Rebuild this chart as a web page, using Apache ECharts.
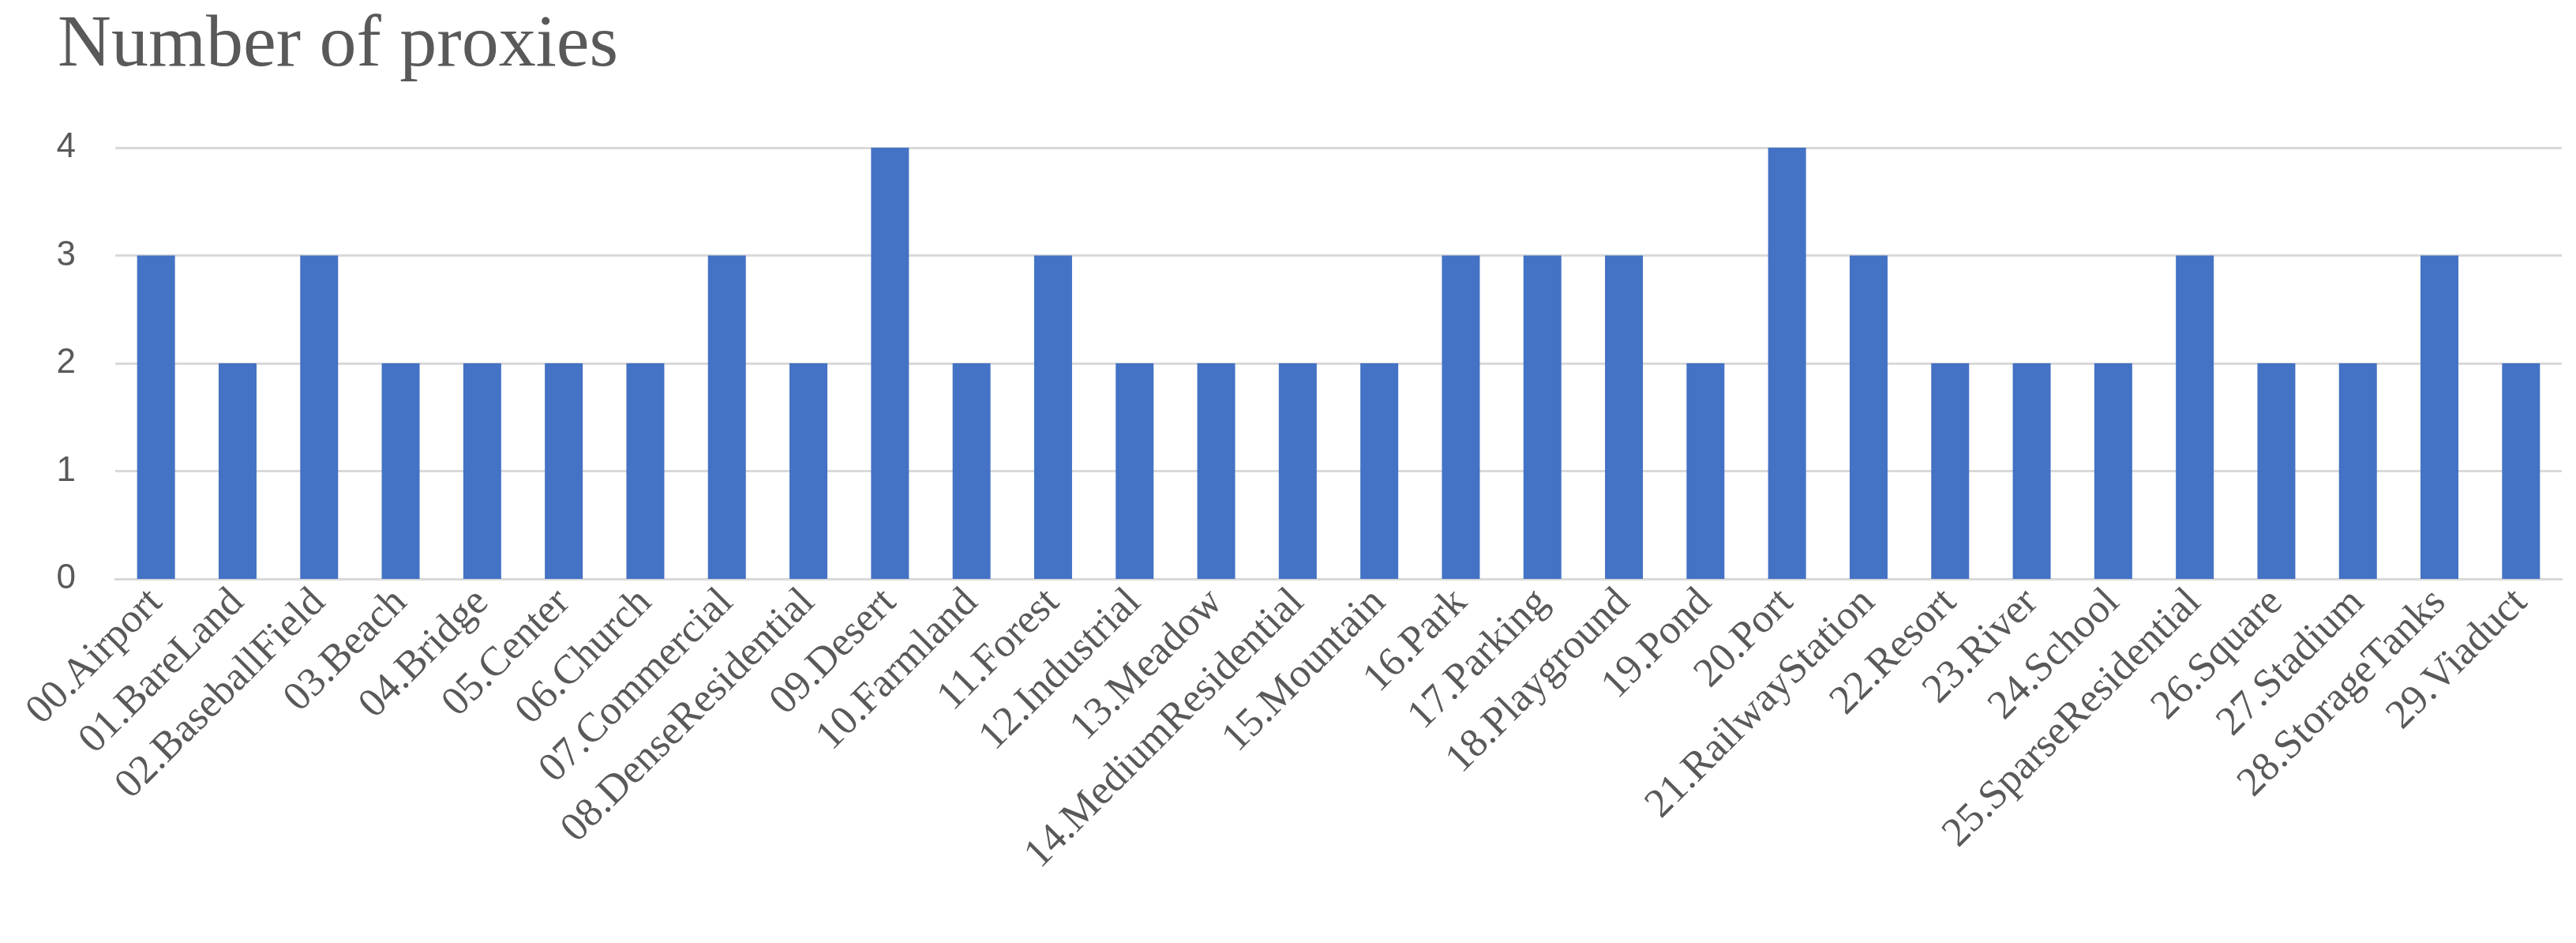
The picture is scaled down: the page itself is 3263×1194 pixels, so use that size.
<!DOCTYPE html>
<html>
<head>
<meta charset="utf-8">
<script src="https://cdn.jsdelivr.net/npm/echarts@6/dist/echarts.min.js"></script>
<style>html,body{margin:0;background:#fff}#chart{width:3263px;height:1194px}</style>
</head>
<body>
<div id="chart"></div>
<script>
const categories = ["00.Airport","01.BareLand","02.BaseballField","03.Beach","04.Bridge","05.Center","06.Church","07.Commercial","08.DenseResidential","09.Desert","10.Farmland","11.Forest","12.Industrial","13.Meadow","14.MediumResidential","15.Mountain","16.Park","17.Parking","18.Playground","19.Pond","20.Port","21.RailwayStation","22.Resort","23.River","24.School","25.SparseResidential","26.Square","27.Stadium","28.StorageTanks","29.Viaduct"];
const proxies = [3,2,3,2,2,2,2,3,2,4,2,3,2,2,2,2,3,3,3,2,4,3,2,2,2,3,2,2,3,2];

const chart = echarts.init(document.getElementById("chart"));
chart.setOption({
  animation: false,
  title: {
    text: "Number of proxies", left: 68, top: 6,
    textStyle: { fontFamily: "Liberation Serif", fontWeight: "normal", fontSize: 94, color: "#595959" }
  },
  grid: { left: 146, right: 18, top: 187, bottom: 461 },
  xAxis: {
    type: "category", data: categories,
    axisLine: { lineStyle: { color: "#d9d9d9", width: 3 } },
    axisTick: { show: false },
    axisLabel: { rotate: 45, interval: 0, fontFamily: "Liberation Serif", fontSize: 52, color: "#595959", margin: 22 }
  },
  yAxis: {
    type: "value", min: 0, max: 4, interval: 1,
    splitLine: { lineStyle: { color: "#d9d9d9", width: 3 } },
    axisLabel: { fontFamily: "Liberation Sans", fontSize: 44, color: "#595959", margin: 50 }
  },
  series: [{ type: "bar", data: proxies, barWidth: 48, itemStyle: { color: "#4472C4" } }]
});
</script>
</body>
</html>
